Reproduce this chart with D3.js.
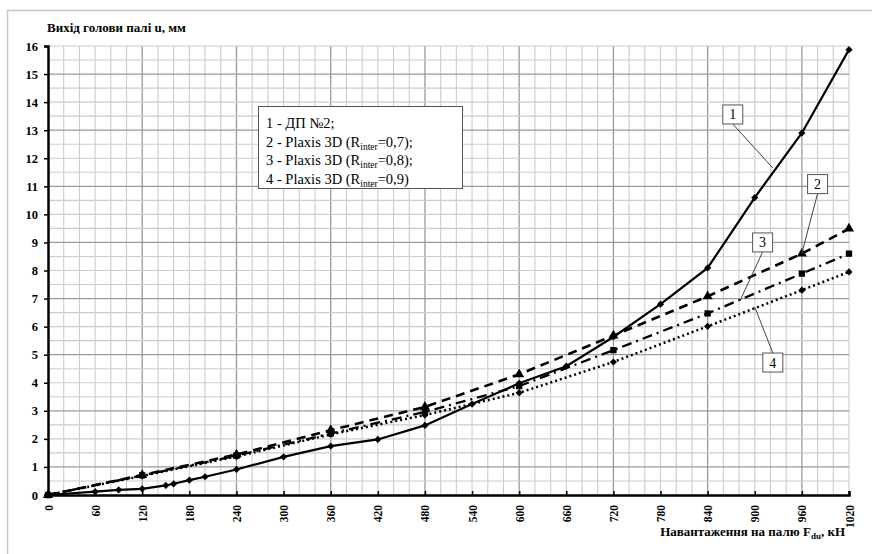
<!DOCTYPE html>
<html><head><meta charset="utf-8">
<script src="https://cdn.jsdelivr.net/npm/d3@7"></script>
<style>body{margin:0;background:#fff}svg{display:block}text{font-family:"Liberation Serif","Times New Roman",serif}</style>
</head><body><svg id="c" width="872" height="554"></svg>
<script>
// ---- data ----
const xTicks = [0,60,120,180,240,300,360,420,480,540,600,660,720,780,840,900,960,1020];
const yTicks = [0,1,2,3,4,5,6,7,8,9,10,11,12,13,14,15,16];
const s1x = [0,60,90,120,150,160,180,200,240,300,360,420,480,540,600,660,720,780,840,900,960,1020];
const s1y = [0,0.12,0.18,0.22,0.34,0.40,0.53,0.65,0.91,1.36,1.74,1.98,2.48,3.24,3.98,4.59,5.63,6.80,8.09,10.6,12.9,15.87];
const sx  = [0,120,240,360,480,600,720,840,960,1020];
const s2y = [0,0.71,1.44,2.31,3.14,4.30,5.68,7.08,8.60,9.49];
const s3y = [0,0.70,1.40,2.19,2.96,3.88,5.16,6.47,7.89,8.60];
const s4y = [0,0.68,1.37,2.16,2.85,3.64,4.74,6.01,7.30,7.95];
const legendItems = ["1 - ДП №2;", "2 - Plaxis 3D (R|inter|=0,7);", "3 - Plaxis 3D (R|inter|=0,8);", "4 - Plaxis 3D (R|inter|=0,9)"];
const callLabels = ["1","2","3","4"];
const callBox = [[872,13.56],[980,11.08],[910,9.0],[923,4.72]];
const callTip = [[923,11.65],[960,8.62],[881,6.91],[900,6.70]];
const yTitle = "Вихід голови палі u, мм";
const xTitleMain = "Навантаження на палю F", xTitleSub = "du", xTitleEnd = ", кН";

// ---- chart ----
const svg = d3.select("#c");
const x = d3.scaleLinear().domain([0,1020]).range([48,849]);
const y = d3.scaleLinear().domain([0,16]).range([495,46]);

svg.append("rect").attr("x",7.5).attr("y",10.5).attr("width",870).attr("height",560)
  .attr("fill","none").attr("stroke","#c8c8c8").attr("stroke-width",1.5);

const g = svg.append("g");
// grid
const vx = d3.range(20,1021,20), hy = d3.range(0.5,16.01,0.5);
g.selectAll(".vg").data(vx).join("line")
  .attr("x1",d=>x(d)).attr("x2",d=>x(d)).attr("y1",y(0)).attr("y2",y(16))
  .attr("stroke",d=>d%120===0?"#9a9a9a":"#cccccc").attr("stroke-width",d=>d%120===0?1.3:1.1);
g.selectAll(".hg").data(hy).join("line")
  .attr("x1",x(0)).attr("x2",x(1020)).attr("y1",d=>y(d)).attr("y2",d=>y(d))
  .attr("stroke",d=>(d%2===1)?"#9a9a9a":"#cccccc").attr("stroke-width",d=>(d%2===1)?1.3:1.1);

// axes
const xa = svg.append("g").attr("transform",`translate(0,${y(0)})`)
  .call(d3.axisBottom(x).tickValues(xTicks).tickSize(-4).tickPadding(10).tickFormat(d3.format("d")));
xa.select(".domain").attr("stroke","#000").attr("stroke-width",2.5);
xa.selectAll(".tick line").attr("stroke","#000").attr("stroke-width",1.5);
xa.selectAll(".tick text").attr("transform","rotate(-90)").attr("text-anchor","end")
  .attr("x",-10).attr("y",0).attr("dy","0.35em")
  .attr("font-size",11.5).attr("font-weight","bold").attr("fill","#000");

const ya = svg.append("g").attr("transform",`translate(${x(0)},0)`)
  .call(d3.axisLeft(y).tickValues(yTicks).tickSize(4).tickPadding(6));
ya.select(".domain").attr("stroke","#000").attr("stroke-width",2.5);
ya.selectAll(".tick line").attr("stroke","#000").attr("stroke-width",1.5);
ya.selectAll(".tick text").attr("font-size",12.5).attr("font-weight","bold").attr("fill","#000");

// titles
svg.append("text").attr("x",47).attr("y",32).attr("font-size",13).attr("font-weight","bold").text(yTitle);
const xt = svg.append("text").attr("x",845).attr("y",536).attr("text-anchor","end")
  .attr("font-size",13).attr("font-weight","bold");
xt.append("tspan").text(xTitleMain);
xt.append("tspan").attr("font-size",9).attr("dy",3).text(xTitleSub);
xt.append("tspan").attr("dy",-3).text(xTitleEnd);

// series
const line = d3.line().x(d=>x(d[0])).y(d=>y(d[1]));
const series = [
  {xs:s1x, ys:s1y, dash:null, w:2.2, mark:d3.symbolSquare, rot:45, ms:26},
  {xs:sx, ys:s2y, dash:"9,6", w:2.6, mark:d3.symbolTriangle, rot:0, ms:44},
  {xs:sx, ys:s3y, dash:"10,5,2,5", w:2.3, mark:d3.symbolSquare, rot:0, ms:40},
  {xs:sx, ys:s4y, dash:"2,3", w:2.5, mark:d3.symbolSquare, rot:45, ms:26}
];
series.forEach(s=>{
  const pts = s.xs.map((v,i)=>[v,s.ys[i]]);
  svg.append("path").datum(pts).attr("d",line).attr("fill","none").attr("stroke","#000")
    .attr("stroke-width",s.w).attr("stroke-dasharray",s.dash);
  svg.selectAll(null).data(pts).join("path")
    .attr("transform",d=>`translate(${x(d[0])},${y(d[1])}) rotate(${s.rot})`)
    .attr("d",d3.symbol().type(s.mark).size(s.ms)).attr("fill","#000");
});

// legend
const lg = svg.append("g");
lg.append("rect").attr("x",258.5).attr("y",106.5).attr("width",204).attr("height",82)
  .attr("fill","#fff").attr("stroke","#555").attr("stroke-width",1);
legendItems.forEach((t,i)=>{
  const parts = t.split("|");
  const tx = lg.append("text").attr("x",266).attr("y",128+i*18.7).attr("font-size",14.5);
  tx.append("tspan").text(parts[0]);
  if(parts.length>1){
    tx.append("tspan").attr("font-size",9.5).attr("dy",3).text(parts[1]);
    tx.append("tspan").attr("dy",-3).text(parts[2]);
  }
});

// callouts
callLabels.forEach((lab,i)=>{
  const bx = x(callBox[i][0]), by = y(callBox[i][1]);
  const tx = x(callTip[i][0]), ty = y(callTip[i][1]);
  const sy = ty>by ? by+9.5 : by-9.5;
  svg.append("line").attr("x1",bx).attr("y1",sy).attr("x2",tx).attr("y2",ty)
    .attr("stroke","#444").attr("stroke-width",1);
  svg.append("rect").attr("x",bx-10).attr("y",by-9.5).attr("width",20).attr("height",19)
    .attr("fill","#fff").attr("stroke","#555").attr("stroke-width",1);
  svg.append("text").attr("x",bx).attr("y",by+5).attr("text-anchor","middle")
    .attr("font-size",14).text(lab);
});
</script></body></html>
